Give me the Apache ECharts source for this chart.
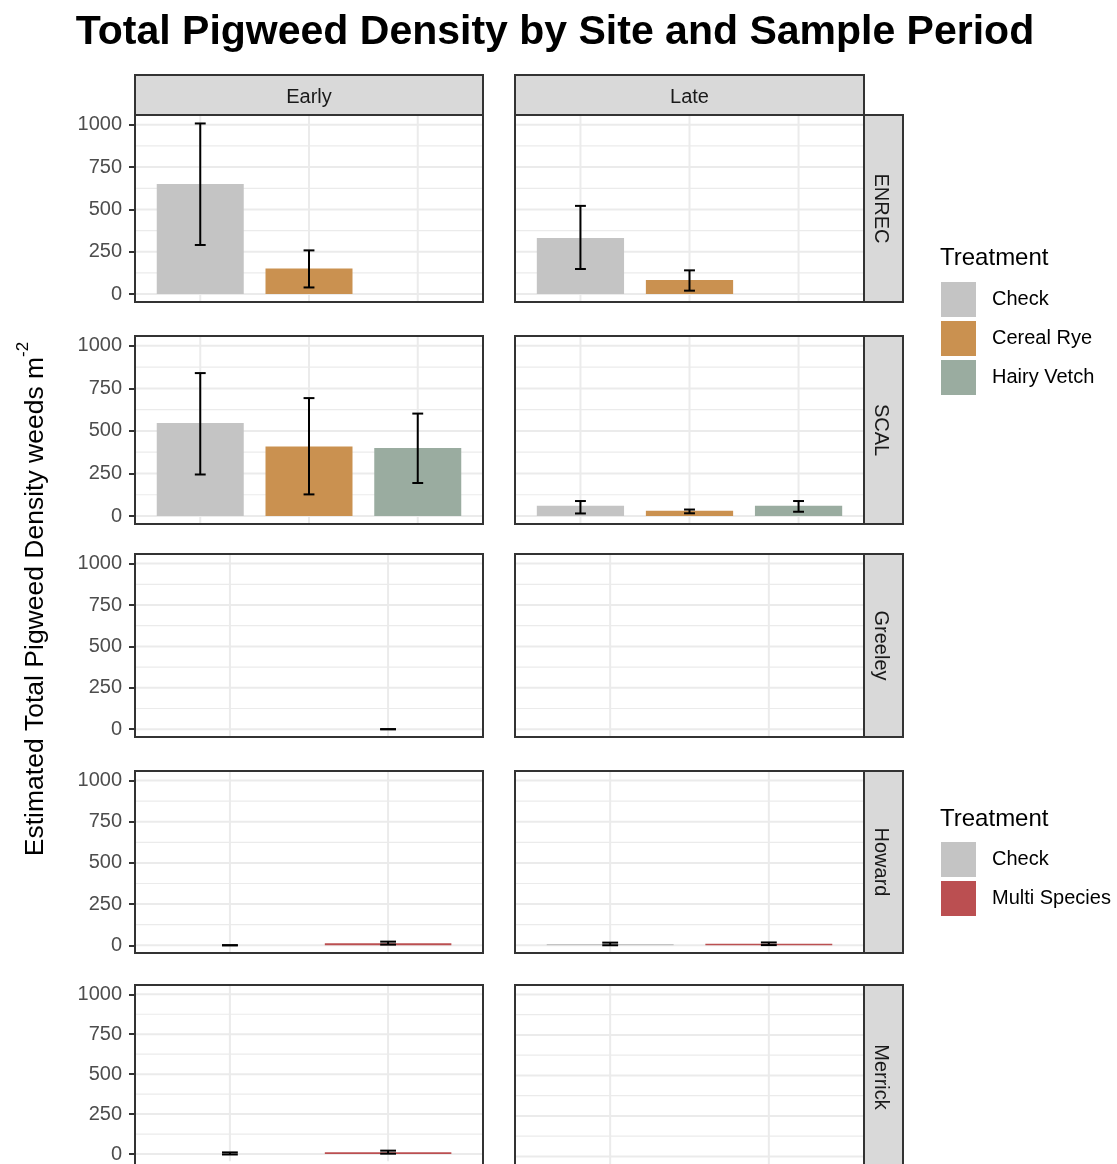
<!DOCTYPE html>
<html><head><meta charset="utf-8">
<script src="https://cdn.jsdelivr.net/npm/echarts@6/dist/echarts.min.js"></script>
<style>html,body{margin:0;padding:0;background:#fff}#c{width:1117px;height:1164px}</style>
</head><body><div id="c"></div><script>
// ---------- DATA ----------
const titleText = 'Total Pigweed Density by Site and Sample Period';
const yTitleText = 'Estimated Total Pigweed Density weeds m';
const yTitleSup = '-2';
const legendTitle = 'Treatment';
const sites = ['ENREC', 'SCAL', 'Greeley', 'Howard', 'Merrick'];
const periods = ['Early', 'Late'];
const treatmentsA = ['Check', 'Cereal Rye', 'Hairy Vetch'];   // ENREC, SCAL
const treatmentsB = ['Check', 'Multi Species'];               // Greeley, Howard, Merrick
const yTicks = [0, 250, 500, 750, 1000];
const yMinorTicks = [125, 375, 625, 875];

// per site: [Early values by treatment], [Late values by treatment]
const enrecMean = [[651, 151, null], [331, 83, null]];
const enrecLow  = [[290, 39, null],  [148, 20, null]];
const enrecHigh = [[1008, 258, null], [521, 140, null]];

const scalMean = [[546, 409, 399], [60, 31, 60]];
const scalLow  = [[244, 127, 194], [15, 16, 25]];
const scalHigh = [[840, 693, 602], [88, 38, 88]];

const greeleyMean = [[null, 0], [null, null]];
const greeleyLow  = [[null, 0], [null, null]];
const greeleyHigh = [[null, 0], [null, null]];

const howardMean = [[0, 12], [8, 9]];
const howardLow  = [[0, 4],  [0, 1]];
const howardHigh = [[0, 22], [16, 17]];

const merrickMean = [[0, 11], [null, null]];
const merrickLow  = [[-3, 2], [null, null]];
const merrickHigh = [[10, 21], [null, null]];

// ---------- STYLE / LAYOUT ----------
const colors = {'Check': '#c4c4c4', 'Cereal Rye': '#ca9150', 'Hairy Vetch': '#9aaca0', 'Multi Species': '#bb4f51'};
const FONT = '"Liberation Sans", Arial, sans-serif';
const colLeft = [135, 515], colWidth = [348, 349];
const rowTop = [115, 336, 554, 771, 985], rowHeight = [187, 188, 183, 182, 184];
const stripX = 864, stripW = 39, stripTop = 75, stripH = 40;

const siteData = [
  [enrecMean, enrecLow, enrecHigh],
  [scalMean, scalLow, scalHigh],
  [greeleyMean, greeleyLow, greeleyHigh],
  [howardMean, howardLow, howardHigh],
  [merrickMean, merrickLow, merrickHigh]
];

function renderGrid(params, api) {
  const cs = params.coordSys;
  const kind = api.value(0), v = api.value(1);
  if (kind === 2) {
    const x = api.coord([v, 0])[0];
    return {type: 'line', shape: {x1: x, y1: cs.y, x2: x, y2: cs.y + cs.height}, style: {stroke: '#ebebeb', lineWidth: 2}};
  }
  const y = api.coord([1, v])[1];
  return {type: 'line', shape: {x1: cs.x, y1: y, x2: cs.x + cs.width, y2: y},
    style: {stroke: '#ebebeb', lineWidth: kind === 0 ? 2 : 1.2}};
}

function renderBar(params, api) {
  const x = api.value(0), m = api.value(1), lo = api.value(2), hi = api.value(3);
  const children = [];
  if (!isNaN(m) && m !== 0) {
    const p0 = api.coord([x - 0.4, 0]);
    const p1 = api.coord([x + 0.4, m]);
    children.push({type: 'rect', shape: {x: p0[0], y: Math.min(p0[1], p1[1]), width: p1[0] - p0[0], height: Math.abs(p0[1] - p1[1])},
      style: {fill: api.visual('color')}});
  }
  if (!isNaN(lo) && !isNaN(hi)) {
    const a = api.coord([x, lo]), b = api.coord([x, hi]);
    const l0 = api.coord([x - 0.05, lo]), l1 = api.coord([x + 0.05, lo]);
    const h0 = api.coord([x - 0.05, hi]), h1 = api.coord([x + 0.05, hi]);
    const st = {stroke: '#000', lineWidth: 2};
    children.push({type: 'line', shape: {x1: a[0], y1: a[1], x2: b[0], y2: b[1]}, style: st});
    children.push({type: 'line', shape: {x1: l0[0], y1: l0[1], x2: l1[0], y2: l1[1]}, style: st});
    children.push({type: 'line', shape: {x1: h0[0], y1: h0[1], x2: h1[0], y2: h1[1]}, style: st});
  }
  return {type: 'group', children};
}

const grids = [], xAxes = [], yAxes = [], series = [], graphics = [];

sites.forEach((site, r) => {
  const trts = r < 2 ? treatmentsA : treatmentsB;
  const nCat = trts.length;
  const [mean, low, high] = siteData[r];
  periods.forEach((per, c) => {
    const idx = r * 2 + c;
    grids.push({left: colLeft[c], top: rowTop[r], width: colWidth[c], height: rowHeight[r],
      show: true, backgroundColor: '#fff', borderWidth: 0, containLabel: false});
    xAxes.push({gridIndex: idx, type: 'value', min: 0.4, max: nCat + 0.6, show: false});
    yAxes.push({gridIndex: idx, type: 'value', min: -47, max: 1058,
      axisLine: {show: false}, splitLine: {show: false},
      axisTick: {show: c === 0, length: 6, customValues: yTicks, lineStyle: {color: '#333', width: 2}},
      axisLabel: {show: c === 0, customValues: yTicks, color: '#4d4d4d', fontSize: 20, fontFamily: FONT, margin: 13,
        formatter: v => String(v)}});
    const gdata = yTicks.map(v => [0, v]).concat(yMinorTicks.map(v => [1, v])).concat(trts.map((t, k) => [2, k + 1]));
    series.push({type: 'custom', xAxisIndex: idx, yAxisIndex: idx, silent: true, z: 1, clip: true,
      data: gdata, renderItem: renderGrid});
    trts.forEach((t, k) => {
      const mv = mean[c][k], lv = low[c][k], hv = high[c][k];
      if (mv === null && lv === null) return;
      series.push({type: 'custom', name: t, xAxisIndex: idx, yAxisIndex: idx, z: 3, clip: false,
        itemStyle: {color: colors[t]}, silent: true,
        data: [[k + 1, mv, lv, hv]], renderItem: renderBar});
    });
    graphics.push({type: 'rect', z: 100, silent: true,
      shape: {x: colLeft[c], y: rowTop[r], width: colWidth[c], height: rowHeight[r]},
      style: {fill: 'none', stroke: '#333', lineWidth: 2}});
  });
  graphics.push({type: 'rect', z: 100, silent: true,
    shape: {x: stripX, y: rowTop[r], width: stripW, height: rowHeight[r]},
    style: {fill: '#d9d9d9', stroke: '#333', lineWidth: 2}});
  graphics.push({type: 'text', z: 101, silent: true, x: stripX + stripW / 2 - 3, y: rowTop[r] + rowHeight[r] / 2, rotation: -Math.PI / 2,
    style: {text: site, fill: '#1a1a1a', font: '20px ' + FONT, align: 'center', verticalAlign: 'middle'}});
});

periods.forEach((per, c) => {
  graphics.push({type: 'rect', z: 100, silent: true,
    shape: {x: colLeft[c], y: stripTop, width: colWidth[c], height: stripH},
    style: {fill: '#d9d9d9', stroke: '#333', lineWidth: 2}});
  graphics.push({type: 'text', z: 101, silent: true, x: colLeft[c] + colWidth[c] / 2, y: stripTop + stripH / 2 + 2,
    style: {text: per, fill: '#1a1a1a', font: '20px ' + FONT, align: 'center', verticalAlign: 'middle'}});
});

graphics.push({type: 'text', z: 101, silent: true, x: 555, y: 33,
  style: {text: titleText, fill: '#000', font: 'bold 41px ' + FONT, align: 'center', verticalAlign: 'middle'}});
graphics.push({type: 'text', z: 101, silent: true, x: 32, y: 599, rotation: Math.PI / 2,
  style: {text: '{t|' + yTitleText + '}{s|' + yTitleSup + '}', align: 'center', verticalAlign: 'middle',
    rich: {t: {fontSize: 26.5, fontFamily: FONT, fill: '#000', lineHeight: 34, verticalAlign: 'bottom'},
           s: {fontSize: 17, fontFamily: FONT, fill: '#000', lineHeight: 34, verticalAlign: 'top'}}}});
graphics.push({type: 'text', z: 101, silent: true, x: 940, y: 258,
  style: {text: legendTitle, fill: '#000', font: '24px ' + FONT, align: 'left', verticalAlign: 'middle'}});
graphics.push({type: 'text', z: 101, silent: true, x: 940, y: 819,
  style: {text: legendTitle, fill: '#000', font: '24px ' + FONT, align: 'left', verticalAlign: 'middle'}});

const legendCommon = {orient: 'vertical', icon: 'rect', itemWidth: 35, itemHeight: 35, itemGap: 4, selectedMode: false, padding: 0,
  textStyle: {fontSize: 20, color: '#000', fontFamily: FONT, padding: [0, 0, 0, 11]}};

const chart = echarts.init(document.getElementById('c'), null, {renderer: 'canvas'});
chart.setOption({
  animation: false,
  backgroundColor: '#fff',
  textStyle: {fontFamily: FONT},
  grid: grids, xAxis: xAxes, yAxis: yAxes, series: series,
  legend: [
    Object.assign({data: treatmentsA, left: 941, top: 282}, legendCommon),
    Object.assign({data: treatmentsB, left: 941, top: 842}, legendCommon)
  ],
  graphic: graphics
});
</script></body></html>
